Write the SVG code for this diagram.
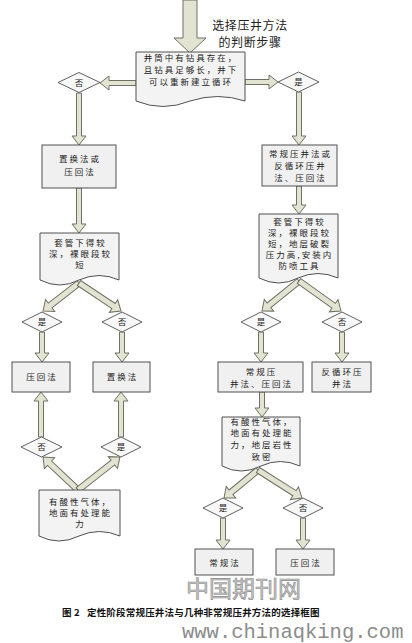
<svg xmlns="http://www.w3.org/2000/svg" width="412" height="643" viewBox="0 0 412 643">
<style>
.arr{fill:#e3e3d2;stroke:#707064;stroke-width:1}
.box{fill:#f0f0f0;stroke:#505050;stroke-width:1}
.doc{fill:#f3f3f3;stroke:#505050;stroke-width:1}
.dia{fill:#f8f8f8;stroke:#606060;stroke-width:1}
.t{font-family:"Noto Sans CJK SC","Noto Sans",sans-serif;font-size:8.5px;fill:#222;letter-spacing:2px;text-anchor:middle}
.title{font-family:"Noto Sans CJK SC",sans-serif;font-size:12px;fill:#222;letter-spacing:0.6px;text-anchor:middle}
.cap{font-family:"Noto Sans CJK SC",sans-serif;font-size:9.5px;fill:#111;font-weight:bold;letter-spacing:0.2px}
.wm{font-family:"Noto Sans CJK SC",sans-serif;font-size:23px;fill:#c8c8c8;stroke:#8a8a8a;stroke-width:0.6}
.wm2{font-family:"Liberation Mono",monospace;font-size:20.5px;fill:#8c8c8c}
</style>

<g id="connectors">
  <polygon class="arr" points="183,0 197,0 197,38 206,38 190,53 174,38 183,38"/>
  <polygon class="arr" transform="translate(136 83) rotate(180)" points="0,-2.5 27,-2.5 27,-7 36,0 27,7 27,2.5 0,2.5"/>
  <polygon class="arr" transform="translate(245 82) rotate(0)" points="0,-2.5 24,-2.5 24,-7 33,0 24,7 24,2.5 0,2.5"/>
  <polygon class="arr" transform="translate(79 93) rotate(90)" points="0,-2.5 43,-2.5 43,-7 52,0 43,7 43,2.5 0,2.5"/>
  <polygon class="arr" transform="translate(299 92) rotate(90)" points="0,-2.5 44,-2.5 44,-7 53,0 44,7 44,2.5 0,2.5"/>
  <polygon class="arr" transform="translate(79 188) rotate(90)" points="0,-2.5 36,-2.5 36,-7 45,0 36,7 36,2.5 0,2.5"/>
  <polygon class="arr" transform="translate(299 186) rotate(90)" points="0,-2.5 19,-2.5 19,-7 28,0 19,7 19,2.5 0,2.5"/>
  <polygon class="arr" transform="translate(79 283) rotate(142.1)" points="0,-3 36.6,-3 36.6,-7.5 45.6,0 36.6,7.5 36.6,3 0,3"/>
  <polygon class="arr" transform="translate(79 283) rotate(33.7)" points="0,-3 41.5,-3 41.5,-7.5 50.5,0 41.5,7.5 41.5,3 0,3"/>
  <polygon class="arr" transform="translate(42 332) rotate(90)" points="0,-2.5 21,-2.5 21,-7 30,0 21,7 21,2.5 0,2.5"/>
  <polygon class="arr" transform="translate(122 332) rotate(90)" points="0,-2.5 21,-2.5 21,-7 30,0 21,7 21,2.5 0,2.5"/>
  <polygon class="arr" transform="translate(299 281) rotate(141)" points="0,-3 38.6,-3 38.6,-7.5 47.6,0 38.6,7.5 38.6,3 0,3"/>
  <polygon class="arr" transform="translate(299 281) rotate(35.5)" points="0,-3 42.6,-3 42.6,-7.5 51.6,0 42.6,7.5 42.6,3 0,3"/>
  <polygon class="arr" transform="translate(261 332) rotate(90)" points="0,-2.5 21,-2.5 21,-7 30,0 21,7 21,2.5 0,2.5"/>
  <polygon class="arr" transform="translate(342 332) rotate(90)" points="0,-2.5 21,-2.5 21,-7 30,0 21,7 21,2.5 0,2.5"/>
  <polygon class="arr" transform="translate(262 392) rotate(90)" points="0,-2.5 16,-2.5 16,-7 25,0 16,7 16,2.5 0,2.5"/>
  <polygon class="arr" transform="translate(258 470) rotate(140.5)" points="0,-3 35,-3 35,-7.5 44,0 35,7.5 35,3 0,3"/>
  <polygon class="arr" transform="translate(258 470) rotate(32.5)" points="0,-3 43.2,-3 43.2,-7.5 52.2,0 43.2,7.5 43.2,3 0,3"/>
  <polygon class="arr" transform="translate(223 518) rotate(90)" points="0,-2.5 22,-2.5 22,-7 31,0 22,7 22,2.5 0,2.5"/>
  <polygon class="arr" transform="translate(303 518) rotate(90)" points="0,-2.5 22,-2.5 22,-7 31,0 22,7 22,2.5 0,2.5"/>
  <polygon class="arr" transform="translate(78 490) rotate(-136.7)" points="0,-3 39.1,-3 39.1,-7.5 48.1,0 39.1,7.5 39.1,3 0,3"/>
  <polygon class="arr" transform="translate(78 490) rotate(-38.2)" points="0,-3 44.4,-3 44.4,-7.5 53.4,0 44.4,7.5 44.4,3 0,3"/>
  <polygon class="arr" transform="translate(41 437) rotate(-90)" points="0,-2.5 36,-2.5 36,-7 45,0 36,7 36,2.5 0,2.5"/>
  <polygon class="arr" transform="translate(121 437) rotate(-90)" points="0,-2.5 36,-2.5 36,-7 45,0 36,7 36,2.5 0,2.5"/>
</g>

<g id="title">
  <text class="title" x="250" y="30">选择压井方法</text>
  <text class="title" x="250" y="47">的判断步骤</text>
</g>

<g id="doc0">
  <path class="doc" d="M136,52 H245 V101 Q218,92 190,101 Q163,112 136,101 Z"/>
  <text class="t" x="191" y="61">井筒中有钻具存在，</text>
  <text class="t" x="191" y="73">且钻具足够长，井下</text>
  <text class="t" x="191" y="85">可以重新建立循环</text>
</g>

<g id="d1">
  <polygon class="dia" points="58,82.5 79,72.5 100,82.5 79,92.5"/>
  <text class="t" x="80" y="85.5">否</text>
</g>
<g id="d2">
  <polygon class="dia" points="278,82 298.5,72 319,82 298.5,92"/>
  <text class="t" x="299.5" y="85">是</text>
</g>

<g id="b1">
  <rect class="box" x="42" y="145" width="74" height="43"/>
  <text class="t" x="80" y="162">置换法或</text>
  <text class="t" x="80" y="175">压回法</text>
</g>
<g id="b2">
  <rect class="box" x="262" y="145" width="75" height="41"/>
  <text class="t" x="300.5" y="157">常规压井法或</text>
  <text class="t" x="300.5" y="169">反循环压井</text>
  <text class="t" x="300.5" y="181">法、压回法</text>
</g>

<g id="doc1">
  <path class="doc" d="M40,233 H119 V280 Q99,271 79,280 Q60,290 40,280 Z"/>
  <text class="t" x="80.5" y="246">套管下得较</text>
  <text class="t" x="80.5" y="257">深，裸眼段较</text>
  <text class="t" x="80.5" y="268">短</text>
</g>
<g id="doc2">
  <path class="doc" d="M259,214 H338 V278 Q318,269 298,278 Q279,288 259,278 Z"/>
  <text class="t" x="299.5" y="225">套管下得较</text>
  <text class="t" x="299.5" y="236">深，裸眼段较</text>
  <text class="t" x="299.5" y="247">短，地层破裂</text>
  <text class="t" x="299.5" y="258">压力高,安装内</text>
  <text class="t" x="299.5" y="269">防喷工具</text>
</g>

<g id="d3">
  <polygon class="dia" points="22,322 42,312 62,322 42,332"/>
  <text class="t" x="43" y="325">是</text>
</g>
<g id="d4">
  <polygon class="dia" points="102,322 122,312 142,322 122,332"/>
  <text class="t" x="123" y="325">否</text>
</g>
<g id="d5">
  <polygon class="dia" points="241,322 261,312 281,322 261,332"/>
  <text class="t" x="262" y="325">是</text>
</g>
<g id="d6">
  <polygon class="dia" points="322,322 342,312 362,322 342,332"/>
  <text class="t" x="343" y="325">否</text>
</g>

<g id="b3">
  <rect class="box" x="12" y="362" width="58" height="30"/>
  <text class="t" x="42" y="380">压回法</text>
</g>
<g id="b4">
  <rect class="box" x="93" y="362" width="57" height="30"/>
  <text class="t" x="122.5" y="380">置换法</text>
</g>
<g id="b5">
  <rect class="box" x="218" y="362" width="85" height="30"/>
  <text class="t" x="261.5" y="375">常规压</text>
  <text class="t" x="261.5" y="387">井法、压回法</text>
</g>
<g id="b6">
  <rect class="box" x="312" y="362" width="59" height="30"/>
  <text class="t" x="342.5" y="375">反循环压</text>
  <text class="t" x="342.5" y="387">井法</text>
</g>

<g id="d7">
  <polygon class="dia" points="21,447 41.5,437 62,447 41.5,457"/>
  <text class="t" x="42.5" y="450">否</text>
</g>
<g id="d8">
  <polygon class="dia" points="101,447 121,437 141,447 121,457"/>
  <text class="t" x="122" y="450">是</text>
</g>

<g id="doc3">
  <path class="doc" d="M39,490 H120 V536 Q99,527 79,536 Q59,546 39,536 Z"/>
  <text class="t" x="80.5" y="505">有酸性气体，</text>
  <text class="t" x="80.5" y="516">地面有处理能</text>
  <text class="t" x="80.5" y="527">力</text>
</g>

<g id="doc4">
  <path class="doc" d="M222,417 H300 V466 Q280,457 261,466 Q241,476 222,466 Z"/>
  <text class="t" x="262" y="425">有酸性气体，</text>
  <text class="t" x="262" y="436">地面有处理能</text>
  <text class="t" x="262" y="448">力，地层岩性</text>
  <text class="t" x="262" y="460">致密</text>
</g>

<g id="d9">
  <polygon class="dia" points="203,508 223,498 243,508 223,518"/>
  <text class="t" x="224" y="511">是</text>
</g>
<g id="d10">
  <polygon class="dia" points="283,508 303,498 323,508 303,518"/>
  <text class="t" x="304" y="511">否</text>
</g>

<g id="b7">
  <rect class="box" x="195" y="549" width="58" height="26"/>
  <text class="t" x="225" y="566">常规法</text>
</g>
<g id="b8">
  <rect class="box" x="276" y="549" width="58" height="26"/>
  <text class="t" x="306" y="566">压回法</text>
</g>

<g id="watermark">
  <text class="wm" x="186" y="597">中国期刊网</text>
  <text class="wm2" x="182" y="638">www.chinaqking.com</text>
</g>
<g id="caption">
  <text class="cap" x="62" y="616" xml:space="preserve">图 2   定性阶段常规压井法与几种非常规压井方法的选择框图</text>
</g>
</svg>
